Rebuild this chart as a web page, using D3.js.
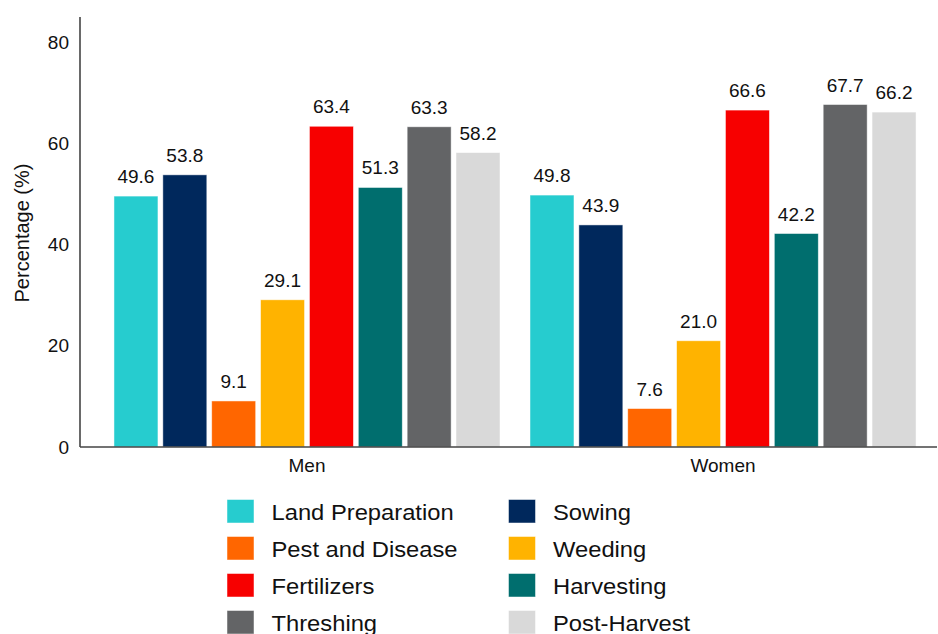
<!DOCTYPE html>
<html>
<head>
<meta charset="utf-8">
<script src="https://cdn.jsdelivr.net/npm/d3@7/dist/d3.min.js"></script>
<style>
  html, body { margin: 0; padding: 0; background: #fff; }
  svg { display: block; }
  text { font-family: "Liberation Sans", Arial, Helvetica, sans-serif; fill: #111; }
</style>
</head>
<body>
<svg id="chart" width="938" height="634"></svg>
<script>
const groups = ["Men", "Women"];
const activities = ["Land Preparation", "Sowing", "Pest and Disease", "Weeding",
                    "Fertilizers", "Harvesting", "Threshing", "Post-Harvest"];
const menValues = [49.6, 53.8, 9.1, 29.1, 63.4, 51.3, 63.3, 58.2];
const womenValues = [49.8, 43.9, 7.6, 21.0, 66.6, 42.2, 67.7, 66.2];
const colors = ["#26CCCF", "#00285C", "#FF6600", "#FFB300",
                "#F70000", "#006E6E", "#636466", "#D9D9D9"];
const yTicks = [0, 20, 40, 60, 80];
const yLabel = "Percentage (%)";

const seriesByGroup = { "Men": menValues, "Women": womenValues };

const svg = d3.select("#chart");

const y = d3.scaleLinear().domain([0, 85]).range([447, 17]);
const x0 = d3.scaleBand().domain(groups).range([99, 931]).paddingInner(0.0721).paddingOuter(0.036);
const x1 = d3.scaleBand().domain(activities).range([0, x0.bandwidth()]).paddingInner(0.1).paddingOuter(0);
const color = d3.scaleOrdinal().domain(activities).range(colors);

// Bars
const g = svg.append("g");
groups.forEach(grp => {
  const vals = seriesByGroup[grp];
  const gg = g.append("g").attr("transform", `translate(${x0(grp)},0)`);
  gg.selectAll("rect").data(activities.map((a, i) => ({ a, v: vals[i] })))
    .enter().append("rect")
    .attr("x", d => x1(d.a))
    .attr("y", d => y(d.v))
    .attr("width", x1.bandwidth())
    .attr("height", d => y(0) - y(d.v))
    .attr("fill", d => color(d.a))
    .attr("stroke", "rgba(255,255,255,0.6)")
    .attr("stroke-width", 0.8);
  gg.selectAll("text.val").data(activities.map((a, i) => ({ a, v: vals[i] })))
    .enter().append("text")
    .attr("class", "val")
    .attr("x", d => x1(d.a) + x1.bandwidth() / 2)
    .attr("y", d => y(d.v) - 13)
    .attr("text-anchor", "middle")
    .style("font-size", "19px")
    .text(d => d.v.toFixed(1));
});

// Y axis
const yAxis = d3.axisLeft(y).tickValues(yTicks).tickSize(0).tickPadding(11);
const ya = svg.append("g").attr("transform", "translate(80,0)").call(yAxis);
ya.select(".domain").remove();
ya.selectAll("text").style("font-size", "19px").attr("fill", "#111");
svg.append("line").attr("x1", 80).attr("x2", 80).attr("y1", y(85)).attr("y2", y(0))
  .attr("stroke", "#444").attr("stroke-width", 1.6);

// X axis
const xAxis = d3.axisBottom(x0).tickSize(0).tickPadding(12);
const xa = svg.append("g").attr("transform", `translate(0,${y(0)})`).call(xAxis);
xa.select(".domain").remove();
xa.selectAll("text").style("font-size", "19px").attr("fill", "#111");
svg.append("line").attr("x1", 80).attr("x2", 937).attr("y1", y(0)).attr("y2", y(0))
  .attr("stroke", "#444").attr("stroke-width", 1.6);

// Y label
svg.append("text")
  .attr("transform", "translate(29,233) rotate(-90)")
  .attr("text-anchor", "middle")
  .style("font-size", "20px")
  .text(yLabel);

// Legend
const legend = svg.append("g");
activities.forEach((a, i) => {
  const col = i % 2, row = Math.floor(i / 2);
  const lx = col === 0 ? 227 : 508.5;
  const ly = 499.5 + row * 37;
  legend.append("rect").attr("x", lx).attr("y", ly).attr("width", 27).attr("height", 23.5)
    .attr("fill", color(a)).attr("stroke", "rgba(255,255,255,0.6)").attr("stroke-width", 0.8);
  legend.append("text")
    .attr("transform", `translate(${lx + 44.5},${ly + 20.5}) scale(1.08,1)`)
    .style("font-size", "22px").text(a);
});
</script>
</body>
</html>
